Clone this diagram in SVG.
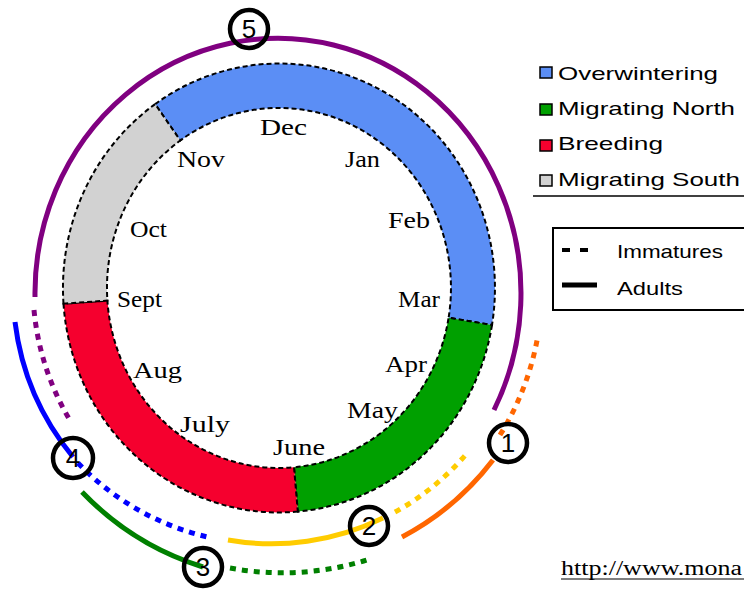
<svg xmlns="http://www.w3.org/2000/svg" width="744" height="589" viewBox="0 0 744 589">
<style>
.seg{stroke:#000;stroke-width:2;stroke-dasharray:5 3}
.mon{font-family:"Liberation Serif",serif;font-size:23px;fill:#000}
.leg{font-family:"Liberation Sans",sans-serif;font-size:19px;fill:#000}
.sw{stroke:#000;stroke-width:1.5}
.path{fill:none;stroke-width:5}
.dot{stroke-dasharray:6 6}
.num{fill:none;stroke:#000;stroke-width:4.5}
.numt{font-family:"Liberation Sans",sans-serif;font-size:26px;fill:#000;text-anchor:middle}
</style>
<rect width="744" height="589" fill="#fff"/>
<g id="ring">
<path id="overwintering" class="seg" fill="#5B8EF5" d="M 155.1 104.1 A 216 224.5 0 0 1 492.0 325.0 L 448.6 317.7 A 172 180 0 0 0 180.3 140.5 Z"/>
<path id="migrating-north" class="seg" fill="#00A000" d="M 492.0 325.0 A 216 224.5 0 0 1 297.8 511.6 L 294.0 467.3 A 172 180 0 0 0 448.6 317.7 Z"/>
<path id="breeding" class="seg" fill="#F5002E" d="M 297.8 511.6 A 216 224.5 0 0 1 63.5 303.7 L 107.4 300.6 A 172 180 0 0 0 294.0 467.3 Z"/>
<path id="migrating-south" class="seg" fill="#D2D2D2" d="M 63.5 303.7 A 216 224.5 0 0 1 155.1 104.1 L 180.3 140.5 A 172 180 0 0 0 107.4 300.6 Z"/>
</g>
<g id="months">
<text class="mon" x="260" y="135" textLength="47" lengthAdjust="spacingAndGlyphs">Dec</text>
<text class="mon" x="345" y="167" textLength="35" lengthAdjust="spacingAndGlyphs">Jan</text>
<text class="mon" x="388" y="228" textLength="42" lengthAdjust="spacingAndGlyphs">Feb</text>
<text class="mon" x="398" y="307" textLength="42" lengthAdjust="spacingAndGlyphs">Mar</text>
<text class="mon" x="385" y="372" textLength="42" lengthAdjust="spacingAndGlyphs">Apr</text>
<text class="mon" x="347" y="418" textLength="51" lengthAdjust="spacingAndGlyphs">May</text>
<text class="mon" x="273" y="455" textLength="52" lengthAdjust="spacingAndGlyphs">June</text>
<text class="mon" x="180" y="432" textLength="50" lengthAdjust="spacingAndGlyphs">July</text>
<text class="mon" x="133" y="378" textLength="49" lengthAdjust="spacingAndGlyphs">Aug</text>
<text class="mon" x="117" y="307" textLength="45" lengthAdjust="spacingAndGlyphs">Sept</text>
<text class="mon" x="130" y="237" textLength="37" lengthAdjust="spacingAndGlyphs">Oct</text>
<text class="mon" x="177" y="167" textLength="48" lengthAdjust="spacingAndGlyphs">Nov</text>
</g>
<g id="connectors">
<path id="p5-adult" class="path" stroke="#800080" d="M 35 297 A 243 255 0 1 1 494 410"/>
<path id="p5-imm" class="path dot" stroke="#800080" d="M 34 310 A 243 255 0 0 0 71 422"/>
<path id="p4-adult" class="path" stroke="#0000FF" d="M 15 322 A 263 263 0 0 0 73 457"/>
<path id="p4-imm" class="path dot" stroke="#0000FF" d="M 78 463 A 263 263 0 0 0 212 538"/>
<path id="p3-adult" class="path" stroke="#008000" d="M 82 492 A 286 286 0 0 0 203 567"/>
<path id="p3-imm" class="path dot" stroke="#008000" d="M 230 568 A 286 286 0 0 0 370 559"/>
<path id="p2-adult" class="path" stroke="#FFCC00" d="M 228 540 A 254 254 0 0 0 383 518"/>
<path id="p2-imm" class="path dot" stroke="#FFCC00" d="M 395 512 A 254 254 0 0 0 468 452"/>
<path id="p1-adult" class="path" stroke="#FF6600" d="M 402 537 A 277 277 0 0 0 493 460"/>
<path id="p1-imm" class="path dot" stroke="#FF6600" d="M 500 435 A 277 277 0 0 0 538 335"/>
</g>
<g id="stage5"><circle class="num" cx="249" cy="29" r="19"/><text class="numt" x="249" y="38">5</text></g>
<g id="stage4"><circle class="num" cx="73" cy="458" r="20"/><text class="numt" x="73" y="467">4</text></g>
<g id="stage3"><circle class="num" cx="203" cy="567" r="19"/><text class="numt" x="203" y="576">3</text></g>
<g id="stage2"><circle class="num" cx="369" cy="526" r="19"/><text class="numt" x="369" y="535">2</text></g>
<g id="stage1"><circle class="num" cx="508" cy="443" r="19"/><text class="numt" x="508" y="452">1</text></g>
<g id="legend">
<rect class="sw" x="540" y="67" width="12" height="11" fill="#5B8EF5"/>
<text class="leg" x="558" y="80" textLength="160" lengthAdjust="spacingAndGlyphs">Overwintering</text>
<rect class="sw" x="540" y="104" width="12" height="11" fill="#00A000"/>
<text class="leg" x="558" y="115" textLength="177" lengthAdjust="spacingAndGlyphs">Migrating North</text>
<rect class="sw" x="540" y="140" width="12" height="11" fill="#F5002E"/>
<text class="leg" x="558" y="150" textLength="105" lengthAdjust="spacingAndGlyphs">Breeding</text>
<rect class="sw" x="540" y="175" width="12" height="11" fill="#D2D2D2"/>
<text class="leg" x="558" y="186" textLength="182" lengthAdjust="spacingAndGlyphs">Migrating South</text>
<line x1="533" y1="196" x2="744" y2="196" stroke="#000" stroke-width="1.5"/>
</g>
<g id="line-key">
<rect x="553" y="228" width="195" height="82" fill="none" stroke="#000" stroke-width="2"/>
<line x1="562" y1="250" x2="590" y2="250" stroke="#000" stroke-width="4" stroke-dasharray="8 10"/>
<text class="leg" x="617" y="258" textLength="106" lengthAdjust="spacingAndGlyphs">Immatures</text>
<line x1="562" y1="285" x2="597" y2="285" stroke="#000" stroke-width="5"/>
<text class="leg" x="617" y="295" textLength="66" lengthAdjust="spacingAndGlyphs">Adults</text>
</g>
<g id="url">
<text x="561" y="575" font-family="Liberation Serif, serif" font-size="20" textLength="181" lengthAdjust="spacingAndGlyphs">http://www.mona</text>
<line x1="561" y1="579" x2="744" y2="579" stroke="#000" stroke-width="1.2"/>
</g>
</svg>
